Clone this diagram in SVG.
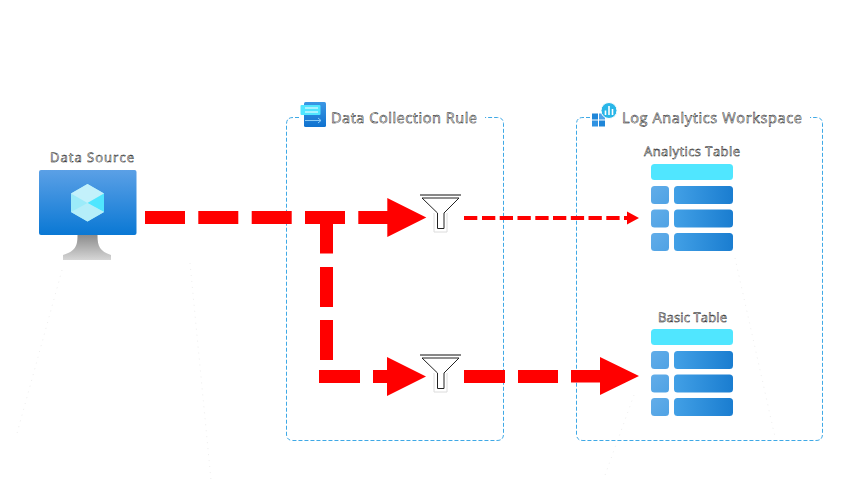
<svg xmlns="http://www.w3.org/2000/svg" width="853" height="480" viewBox="0 0 853 480">
<style>
.t{font-family:"Open Sans","Noto Sans","Liberation Sans",sans-serif;font-weight:400;fill:#fff;stroke:#000;stroke-width:.45;text-rendering:geometricPrecision}
.box{fill:none;stroke:#3fa9e6;stroke-width:1;stroke-dasharray:4 2}
.r{fill:#f00;stroke:none}
.hdr{fill:#50e6ff}
.s{fill:url(#sg)}
.b{fill:url(#bg)}
.faint{fill:none;stroke:#e8e8e8;stroke-width:.8;stroke-dasharray:1 5}
</style>
<defs>
<linearGradient id="sg" x1="0" y1="0" x2="1" y2="1"><stop offset="0" stop-color="#62ade9"/><stop offset="1" stop-color="#4fa2e4"/></linearGradient>
<linearGradient id="bg" x1="0" y1="0" x2="1" y2="0"><stop offset="0" stop-color="#42a0e6"/><stop offset="1" stop-color="#1a7dd0"/></linearGradient>
<linearGradient id="mon" x1="0" y1="0" x2="0" y2="1"><stop offset="0" stop-color="#5ba0e6"/><stop offset="1" stop-color="#0a78d4"/></linearGradient>
<linearGradient id="st" x1="0" y1="0" x2="0" y2="1"><stop offset="0" stop-color="#8c8c8c"/><stop offset="1" stop-color="#d6d6d6"/></linearGradient>
<linearGradient id="dcr" x1="0" y1="0" x2="0" y2="1"><stop offset="0" stop-color="#3c97e4"/><stop offset="1" stop-color="#0f72cf"/></linearGradient>
<g id="funnel">
<path d="M14 18V37H27V18" fill="#fff" stroke="#dcdcdc" stroke-width="1"/>
<path d="M2 3H39L24 18V33.500H17.500V18Z" fill="#fff" stroke="#222" stroke-width="1"/>
<path d="M0 0H41" fill="none" stroke="#111" stroke-width="1"/>
</g>
<g id="table">
<rect class="hdr" x="0" y="0" width="82" height="16" rx="3.5"/>
<rect class="s" x="0" y="22" width="18" height="18" rx="3.5"/>
<rect class="b" x="23" y="22" width="59" height="18" rx="3.5"/>
<rect class="s" x="0" y="45.500" width="18" height="18" rx="3.5"/>
<rect class="b" x="23" y="45.500" width="59" height="18" rx="3.5"/>
<rect class="s" x="0" y="69" width="18" height="18" rx="3.5"/>
<rect class="b" x="23" y="69" width="59" height="18" rx="3.5"/>
</g>
</defs>
<rect width="853" height="480" fill="#fff"/>
<g id="artifacts">
<path class="faint" d="M62 270L16 437M190 263L211 480M735 258L775 437M634 395L604 478"/>
</g>
<g id="dcr-box">
<path class="box" d="M299 117.500H293Q286.500 117.500 286.500 124V434Q286.500 440.500 293 440.500H497Q503.500 440.500 503.500 434V124Q503.500 117.500 497 117.500H485"/>
<g id="dcr-icon">
<rect x="304" y="102" width="22" height="25" rx="1.500" fill="url(#dcr)"/>
<rect x="300.500" y="105" width="20" height="10" rx="1" fill="#50e6ff"/>
<path d="M305 108H318M305 112H318" stroke="#fff" stroke-width="1"/>
<path d="M305 120.500H321M318 118l3 2.500-3 2.500" fill="none" stroke="#8ccdf7" stroke-width="1"/>
</g>
<text class="t" x="331" y="123" font-size="14.500" textLength="146" lengthAdjust="spacing">Data Collection Rule</text>
</g>
<g id="law-box">
<path class="box" d="M590 117.500H583Q576.500 117.500 576.500 124V434Q576.500 440.500 583 440.500H816Q822.500 440.500 822.500 434V124Q822.500 117.500 816 117.500H810"/>
<g id="law-icon">
<rect x="592" y="113.500" width="6" height="6" fill="#1f86d8"/>
<rect x="599" y="113.500" width="6" height="6" fill="#4da3ea"/>
<rect x="592" y="120.500" width="6" height="6" fill="#2f92e2"/>
<rect x="599" y="120.500" width="6" height="6" fill="#1f86d8"/>
<circle cx="609" cy="110.500" r="8" fill="#29b6e8" stroke="#fff" stroke-width="1"/>
<path d="M605.500 115V110.500M609 115V106M612.500 115V109" stroke="#fff" stroke-width="1.600"/>
</g>
<text class="t" x="622" y="123" font-size="14.500" textLength="180" lengthAdjust="spacing">Log Analytics Workspace</text>
</g>
<g id="data-source">
<text class="t" x="50" y="162" font-size="13" textLength="84" lengthAdjust="spacing">Data Source</text>
<rect x="39" y="170" width="97.500" height="65" rx="2" fill="url(#mon)"/>
<path d="M77.500 235H97.500C97.500 247 100 251 111 255V260H63V255C75 251 77.500 247 77.500 235Z" fill="url(#st)"/>
<path d="M87.500 184L104 193.500V212L87.500 221.500L71 212V193.500Z" fill="#9cebf9"/>
<path d="M87.500 184L104 193.500L87.500 203L71 193.500Z" fill="#c3f1fb"/>
<path d="M104 193.500V212L87.500 203Z" fill="#50e6ff"/>
<path d="M87.500 203L104 212L87.500 221.500L71 212Z" fill="#b5eef9"/>
</g>
<g id="filter-analytics"><use href="#funnel" x="420" y="195"/></g>
<g id="filter-basic"><use href="#funnel" x="420" y="355"/></g>
<g id="analytics-table">
<text class="t" x="644" y="156" font-size="13" textLength="96" lengthAdjust="spacing">Analytics Table</text>
<use href="#table" x="651" y="164"/>
</g>
<g id="basic-table">
<text class="t" x="658" y="322" font-size="13" textLength="69" lengthAdjust="spacing">Basic Table</text>
<use href="#table" x="651" y="329"/>
</g>
<g id="connectors">
<path class="r" d="M145 211h40v13h-40zM198.300 211h40v13h-40zM251.700 211h40v13h-40zM305 211h40v13h-40zM358.300 211h29v-13l39 19.500-39 19.500v-13h-29z"/>
<path class="r" d="M320 224h13v29.500h-13zM320 267h13v40h-13zM320 320h13v40h-13z"/>
<path class="r" d="M319 370h41v13h-41zM373 370h14v-13l39 19.500-39 19.500v-13h-14z"/>
<path class="r" d="M464 216h13.300v4h-13.300zM482 216h13.300v4h-13.300zM499.700 216h13.300v4h-13.300zM517.500 216h13.300v4h-13.300zM535.300 216h13.300v4h-13.300zM553 216h13.300v4h-13.300zM570.800 216h13.300v4h-13.300zM588.500 216h13.300v4h-13.300zM606.300 216h13.300v4h-13.300zM624 216h3v-4.500l12 6.500-12 6.500v-4.500h-3z"/>
<path class="r" d="M464 370h41v13h-41zM518 370h40v13h-40zM571 370h29v-13l39 19-39 19v-12.500h-29z"/>
</g>
</svg>
